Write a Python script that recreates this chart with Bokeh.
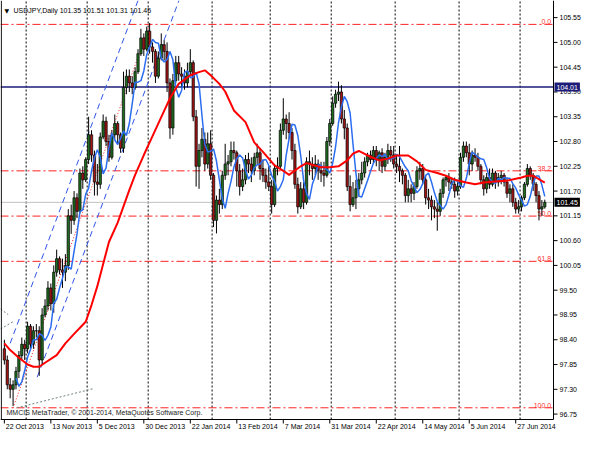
import pandas as pd
from bokeh.plotting import figure
from bokeh.models import ColumnDataSource, Label, Range1d
from bokeh.embed import file_html
from bokeh.resources import INLINE
from bokeh.core.properties import value

# ---------------- data (daily bars, 22 Oct 2013 ... 11 Jul 2014) ----------------
opens = [
    98.20, 97.95, 97.40, 97.30, 97.40, 97.70, 98.05, 98.30, 98.20, 98.70,
    98.30, 98.60, 98.60, 97.95, 98.95, 99.15, 99.55, 99.20, 99.90, 100.20,
    99.95, 99.90, 100.05, 101.15, 101.05, 101.55, 101.25, 102.10, 101.95, 102.40,
    102.95, 102.50, 101.90, 101.85, 102.90, 103.25, 102.80, 102.45, 102.95, 103.20,
    102.95, 102.65, 104.00, 104.25, 104.10, 104.00, 104.35, 104.75, 105.10, 104.85,
    105.25, 104.90, 104.80, 104.25, 104.65, 104.95, 104.80, 104.10, 103.10, 104.15,
    104.55, 104.30, 104.25, 104.10, 104.35, 104.55, 103.35, 102.25, 102.60, 102.85,
    102.30, 102.75, 102.05, 101.05, 101.50, 101.40, 102.05, 102.30, 102.35, 102.60,
    102.55, 102.15, 101.80, 101.95, 102.40, 102.30, 102.15, 102.45, 102.55, 102.20,
    102.05, 101.90, 101.80, 101.40, 102.20, 102.25, 103.05, 103.30, 103.20, 103.00,
    102.60, 101.85, 101.35, 101.75, 101.45, 102.35, 102.30, 102.20, 102.30, 102.15,
    102.10, 102.05, 102.80, 103.20, 103.65, 103.85, 103.90, 103.30, 103.10, 101.80,
    101.40, 101.55, 101.75, 101.95, 102.10, 102.35, 102.50, 102.40, 102.60, 102.40,
    102.55, 102.25, 102.45, 102.60, 102.50, 102.30, 102.25, 102.15, 102.05, 101.60,
    101.75, 101.65, 101.80, 102.15, 102.20, 101.95, 101.55, 101.50, 101.35, 101.30,
    101.25, 101.65, 101.95, 102.00, 101.90, 101.85, 101.70, 101.80, 102.45, 102.70,
    102.55, 102.30, 102.50, 102.45, 102.25, 101.95, 101.75, 102.00, 101.85, 102.10,
    101.90, 102.00, 102.05, 101.90, 101.65, 101.75, 101.45, 101.30, 101.35, 101.55,
    101.85, 102.20, 102.05, 101.85, 101.60, 101.30, 101.35,
]
highs = [
    98.40, 98.05, 97.55, 97.50, 97.80, 98.15, 98.45, 98.40, 98.80, 98.75,
    98.70, 98.75, 98.70, 99.10, 99.30, 99.70, 99.65, 100.05, 100.40, 100.25,
    100.20, 100.30, 101.30, 101.40, 101.70, 101.65, 102.20, 102.25, 102.45, 103.35,
    103.05, 102.60, 102.30, 103.00, 103.40, 103.35, 102.95, 103.05, 103.40, 103.25,
    103.00, 104.35, 104.40, 104.40, 104.25, 104.45, 104.85, 105.30, 105.20, 105.35,
    105.43, 105.00, 104.85, 104.80, 105.20, 105.05, 105.00, 104.20, 104.30, 104.70,
    104.70, 104.45, 104.40, 104.55, 104.85, 104.60, 103.50, 102.75, 103.10, 103.00,
    103.00, 103.05, 102.10, 101.60, 101.75, 102.15, 102.75, 102.50, 102.80, 102.80,
    102.60, 102.30, 102.20, 102.50, 102.55, 102.45, 102.55, 102.75, 102.65, 102.40,
    102.20, 102.25, 101.95, 102.30, 102.45, 103.20, 103.76, 103.40, 103.45, 103.10,
    102.75, 102.00, 101.90, 101.90, 102.45, 102.60, 102.45, 102.50, 102.40, 102.35,
    102.35, 102.90, 103.30, 103.80, 103.95, 104.13, 104.05, 103.50, 103.20, 102.05,
    101.90, 101.95, 102.10, 102.35, 102.45, 102.55, 102.60, 102.70, 102.70, 102.60,
    102.65, 102.55, 102.75, 102.70, 102.70, 102.50, 102.70, 102.20, 102.10, 101.95,
    101.85, 101.90, 102.25, 102.35, 102.30, 102.05, 101.75, 101.60, 101.50, 101.45,
    101.75, 102.00, 102.05, 102.10, 102.00, 102.00, 101.90, 102.55, 102.80, 102.80,
    102.75, 102.60, 102.65, 102.55, 102.30, 102.05, 102.10, 102.20, 102.20, 102.15,
    102.10, 102.15, 102.10, 102.00, 101.85, 101.85, 101.55, 101.50, 101.60, 101.90,
    102.30, 102.25, 102.10, 101.90, 101.70, 101.50, 101.51,
]
lows = [
    97.85, 97.30, 97.10, 96.93, 97.30, 97.55, 97.95, 97.95, 98.10, 98.20,
    98.20, 98.45, 97.60, 97.85, 98.90, 99.05, 99.05, 99.00, 99.80, 99.85,
    99.55, 99.70, 99.95, 100.75, 100.95, 101.10, 101.20, 101.75, 101.90, 102.30,
    102.35, 101.60, 101.60, 101.75, 102.85, 102.70, 102.35, 102.40, 102.85, 102.75,
    102.55, 102.55, 103.85, 103.90, 103.85, 103.95, 104.30, 104.70, 104.70, 104.80,
    104.75, 104.55, 104.10, 104.20, 104.60, 104.60, 103.90, 102.86, 102.95, 104.10,
    104.15, 104.00, 103.95, 104.00, 104.25, 103.25, 101.80, 101.75, 102.45, 102.15,
    102.20, 101.95, 100.90, 100.76, 101.20, 101.30, 101.95, 102.05, 102.25, 102.40,
    101.80, 101.60, 101.70, 101.85, 102.10, 101.90, 102.05, 102.30, 101.95, 101.90,
    101.75, 101.70, 101.20, 101.35, 102.05, 102.20, 102.95, 102.85, 102.85, 102.40,
    101.75, 101.20, 101.30, 101.30, 101.40, 102.05, 101.95, 102.05, 101.95, 101.90,
    101.80, 102.00, 102.70, 103.15, 103.55, 103.70, 103.20, 102.85, 101.70, 101.25,
    101.35, 101.30, 101.60, 101.85, 102.00, 102.25, 102.30, 102.30, 102.25, 102.15,
    102.10, 102.15, 102.30, 102.35, 102.20, 102.10, 101.90, 101.85, 101.45, 101.45,
    101.45, 101.50, 101.75, 101.95, 101.85, 101.40, 101.30, 101.05, 101.10, 100.82,
    101.15, 101.55, 101.80, 101.70, 101.75, 101.55, 101.60, 101.75, 102.35, 102.45,
    102.05, 102.15, 102.35, 102.15, 101.85, 101.60, 101.65, 101.75, 101.80, 101.75,
    101.80, 101.85, 101.80, 101.55, 101.45, 101.35, 101.20, 101.20, 101.25, 101.50,
    101.80, 101.95, 101.70, 101.45, 101.05, 101.15, 101.31,
]
closes = [
    97.95, 97.40, 97.30, 97.40, 97.70, 98.05, 98.30, 98.20, 98.70, 98.30,
    98.60, 98.60, 97.95, 98.95, 99.15, 99.55, 99.20, 99.90, 100.20, 99.95,
    99.90, 100.05, 101.15, 101.05, 101.55, 101.25, 102.10, 101.95, 102.40, 102.95,
    102.50, 101.90, 101.85, 102.90, 103.25, 102.80, 102.45, 102.95, 103.20, 102.95,
    102.65, 104.00, 104.25, 104.10, 104.00, 104.35, 104.75, 105.10, 104.85, 105.25,
    104.90, 104.80, 104.25, 104.65, 104.95, 104.80, 104.10, 103.10, 104.15, 104.55,
    104.30, 104.25, 104.10, 104.35, 104.55, 103.35, 102.25, 102.60, 102.85, 102.30,
    102.75, 102.05, 101.05, 101.50, 101.40, 102.05, 102.30, 102.35, 102.60, 102.55,
    102.15, 101.80, 101.95, 102.40, 102.30, 102.15, 102.45, 102.55, 102.20, 102.05,
    101.90, 101.80, 101.40, 102.20, 102.25, 103.05, 103.30, 103.20, 103.00, 102.60,
    101.85, 101.35, 101.75, 101.45, 102.35, 102.30, 102.20, 102.30, 102.15, 102.10,
    102.05, 102.80, 103.20, 103.65, 103.85, 103.90, 103.30, 103.10, 101.80, 101.40,
    101.55, 101.75, 101.95, 102.10, 102.35, 102.50, 102.40, 102.60, 102.40, 102.55,
    102.25, 102.45, 102.60, 102.50, 102.30, 102.25, 102.15, 102.05, 101.60, 101.75,
    101.65, 101.80, 102.15, 102.20, 101.95, 101.55, 101.50, 101.35, 101.30, 101.25,
    101.65, 101.95, 102.00, 101.90, 101.85, 101.70, 101.80, 102.45, 102.70, 102.55,
    102.30, 102.50, 102.45, 102.25, 101.95, 101.75, 102.00, 101.85, 102.10, 101.90,
    102.00, 102.05, 101.90, 101.65, 101.75, 101.45, 101.30, 101.35, 101.55, 101.85,
    102.20, 102.05, 101.85, 101.60, 101.30, 101.35, 101.45,
]

# bar index of each date label, and the labels
date_ticks = [0, 16, 32, 48, 64, 80, 96, 112, 128, 144, 160, 176]
date_labels = ["22 Oct 2013", "13 Nov 2013", "5 Dec 2013", "30 Dec 2013", "22 Jan 2014",
               "13 Feb 2014", "7 Mar 2014", "31 Mar 2014", "22 Apr 2014", "14 May 2014",
               "5 Jun 2014", "27 Jun 2014"]
# first bar of each month (period separators)
month_starts = [8, 29, 50, 72, 92, 113, 135, 157, 178]

price_ticks = [96.75, 97.30, 97.85, 98.40, 98.95, 99.50, 100.05, 100.60, 101.15, 101.70,
               102.25, 102.80, 103.35, 103.90, 104.45, 105.00, 105.55]

# slow moving average (red)
red_idx = [0, 2, 5, 8, 10, 12, 14, 18, 21, 24, 28, 30, 32, 34, 36, 39, 41, 43, 45, 48,
           50, 54, 57, 60, 64, 67, 69, 71, 74, 76, 79, 83, 86, 89, 93, 96, 98, 102, 104, 109,
           112, 115, 118, 120, 122, 125, 129, 132, 135, 139, 142, 145, 149, 152, 155, 159, 162, 165, 170, 173,
           178, 180, 182, 186]
red_val = [98.32, 98.17, 98.00, 97.85, 97.80, 97.80, 97.89, 98.06, 98.32, 98.53,
           98.80, 99.17, 99.59, 100.08, 100.57, 101.00, 101.36, 101.72, 102.06, 102.50,
           102.78, 103.34, 103.76, 104.08, 104.27, 104.34, 104.38, 104.27, 104.08, 103.91,
           103.49, 103.23, 102.78, 102.57, 102.27, 102.15, 102.06, 102.25, 102.32, 102.23,
           102.23, 102.25, 102.38, 102.53, 102.59, 102.49, 102.38, 102.42, 102.49, 102.49,
           102.36, 102.17, 102.10, 102.04, 101.95, 101.89, 101.85, 101.89, 101.92, 101.93,
           102.00, 102.04, 102.04, 101.89]

# Fibonacci retracement
fib_high_idx, fib_high = 50, 105.40
fib_low_idx, fib_low = 3, 96.89
fib_ratios = [0.0, 0.382, 0.5, 0.618, 1.0]
fib_names = ["0.0", "38.2", "50.0", "61.8", "100.0"]

# blue dashed channel (bar index, price)
chan_a_idx, chan_a_val = [2, 46], [98.32, 105.93]
chan_b_idx, chan_b_val = [11.3, 60.1], [97.57, 105.93]
# grey dotted helper lines
grey1_idx, grey1_val = [4.3, 31], [96.89, 97.32]
grey2_idx, grey2_val = [-1.3, 3], [98.64, 98.80]
grey3_idx, grey3_val = [-1.3, 1.3], [99.08, 98.96]

hline_level = 104.01
bid = 101.45
title = "USDJPY,Daily  101.35 101.51 101.31 101.45"
copyright_text = "MMCIS MetaTrader, \u00a9 2001-2014, MetaQuotes Software Corp."

# ---------------- layout constants ----------------
W, H = 582, 432            # canvas (= frame)
CR, CB = 553, 419          # chart right edge / bottom edge in pixels
X0, XC = -1.33, 189.0      # bar range of the chart area
YT, YB = 105.93, 96.63     # price range of the chart area
PPX = CR / (XC - X0)       # pixels per bar
PPY = CB / (YT - YB)       # pixels per price unit
X_END = X0 + W / PPX
Y_MIN = YT - H / PPY

FONT = "Liberation Sans"
FS = "7px"

bars = list(range(len(closes)))
bull = [c >= o for o, c in zip(opens, closes)]
src = ColumnDataSource(dict(
    x=bars, h=highs, l=lows,
    top=[max(o, c) for o, c in zip(opens, closes)],
    bottom=[min(o, c) for o, c in zip(opens, closes)],
    fill=["#1f6e1f" if b else "#a31515" for b in bull],
))
blue = pd.Series(closes).rolling(3).mean().shift(2)

p = figure(width=W, height=H, output_backend="svg", toolbar_location=None,
           x_range=Range1d(X0, X_END), y_range=Range1d(Y_MIN, YT),
           x_axis_location=None, y_axis_location=None,
           min_border_left=0, min_border_right=0, min_border_top=0, min_border_bottom=0)
p.background_fill_color = "white"
p.border_fill_color = "white"
p.outline_line_color = None
p.xgrid.visible = False
p.ygrid.visible = False

# period separators
p.segment(x0=[m - 0.5 for m in month_starts], x1=[m - 0.5 for m in month_starts],
          y0=YB, y1=YT, line_color="black", line_dash="2 2", line_width=1)

# Fibonacci levels
fib_levels = [fib_high - (fib_high - fib_low) * r for r in fib_ratios]
p.segment(x0=X0, x1=XC, y0=fib_levels, y1=fib_levels, line_color="#ff2020",
          line_dash="8 3 2 3", line_width=1)
p.text(x=[XC - 0.8] * len(fib_levels), y=fib_levels, text=fib_names, text_align="right",
       text_baseline="bottom", text_font=value(FONT), text_font_size=FS, text_color="#ff3030")
p.line([fib_low_idx, fib_high_idx], [fib_low, fib_high], line_color="#ff2020",
       line_dash="1 2", line_width=1)

# horizontal lines
p.segment(x0=X0, x1=XC, y0=bid, y1=bid, line_color="#c0c0c0", line_width=1)
p.segment(x0=X0, x1=XC, y0=hline_level, y1=hline_level, line_color="#1c1c78", line_width=1.5)

# channel and helper lines
p.line(chan_a_idx, chan_a_val, line_color="#2f55e8", line_dash="6 4", line_width=1)
p.line(chan_b_idx, chan_b_val, line_color="#2f55e8", line_dash="6 4", line_width=1)
for gi, gv in [(grey1_idx, grey1_val), (grey2_idx, grey2_val), (grey3_idx, grey3_val)]:
    p.line(gi, gv, line_color="#6f8080", line_dash="2 2", line_width=1)

# candles
p.segment(x0="x", x1="x", y0="l", y1="h", source=src, line_color="black", line_width=1)
p.vbar(x="x", width=0.8, top="top", bottom="bottom", source=src,
       fill_color="fill", line_color="black", line_width=0.7)

# moving averages
p.line(bars, blue, line_color="#2a6df0", line_width=1.5)
p.line(red_idx, red_val, line_color="#ff0000", line_width=2)

# chart frame: left border, bottom axis line, right price-scale line
p.segment(x0=[X0 + 0.8 / PPX, X0, XC], x1=[X0 + 0.8 / PPX, XC, XC],
          y0=[YB, YB, YB], y1=[YT, YB, YT], line_color="black", line_width=1)

# right price scale: ticks and labels
p.segment(x0=XC, x1=XC + 4 / PPX, y0=price_ticks, y1=price_ticks, line_color="black", line_width=1)
p.text(x=[XC + 6 / PPX] * len(price_ticks), y=price_ticks, text=["%.2f" % t for t in price_ticks],
       text_align="left", text_baseline="middle", text_font=value(FONT), text_font_size=FS,
       text_color="black")

# bottom time scale: ticks and labels
p.segment(x0=date_ticks, x1=date_ticks, y0=YB, y1=YB - 4 / PPY, line_color="black", line_width=1)
p.text(x=[t + 1.5 / PPX for t in date_ticks], y=YB - 3 / PPY, text=date_labels,
       text_align="left", text_baseline="top", text_font=value(FONT), text_font_size=FS,
       text_color="black")

# price tags on the right scale
p.add_layout(Label(x=XC, y=hline_level, x_offset=1, text="104.01", text_align="left",
                   text_baseline="middle", text_font=FONT, text_font_size=FS,
                   text_color="white", background_fill_color="#1c1c78", padding=2))
p.add_layout(Label(x=XC, y=bid, x_offset=1, text="101.45", text_align="left",
                   text_baseline="middle", text_font=FONT, text_font_size=FS,
                   text_color="white", background_fill_color="black", padding=2))

# title and copyright
p.add_layout(Label(x=X0 + 4 / PPX, y=YT - 10 / PPY, text="\u25bc", text_align="left",
                   text_baseline="middle", text_font="DejaVu Sans", text_font_size="6px",
                   text_color="black"))
p.add_layout(Label(x=X0 + 13 / PPX, y=YT - 10 / PPY, text=title, text_align="left",
                   text_baseline="middle", text_font=FONT, text_font_size=FS, text_color="black"))
p.add_layout(Label(x=X0 + 6 / PPX, y=YB + 7 / PPY, text=copyright_text, text_align="left",
                   text_baseline="middle", text_font=FONT, text_font_size=FS, text_color="#202020"))

open("out.html", "w").write(file_html(p, INLINE))
